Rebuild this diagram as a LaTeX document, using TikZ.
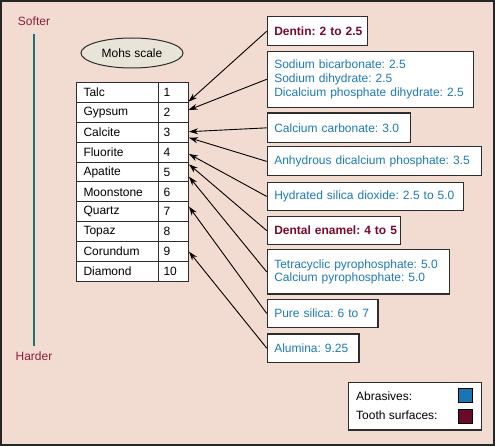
\documentclass[tikz,border=0pt]{standalone}
\usepackage{fontspec}
\setmainfont{Liberation Sans}
\usetikzlibrary{arrows.meta,shapes.geometric}
\definecolor{bg}{RGB}{242,220,210}
\definecolor{abr}{RGB}{30,122,184}
\definecolor{tooth}{RGB}{120,10,42}
\definecolor{softc}{RGB}{140,30,60}
\definecolor{tealc}{RGB}{30,115,110}
\definecolor{edgec}{RGB}{45,45,45}
\definecolor{ellc}{RGB}{232,228,216}
\definecolor{sqblue}{RGB}{26,117,181}
\definecolor{sqred}{RGB}{105,10,42}
\frenchspacing
\begin{document}
\begin{tikzpicture}[x=1pt,y=-1pt,font=\fontsize{12}{14}\selectfont\frenchspacing,
  box/.style={draw=edgec,line width=1.2pt,fill=white,anchor=north west,inner xsep=7pt,inner ysep=0pt,align=left,text=abr},
  toothbox/.style={box,text=tooth,font=\fontsize{12}{14}\selectfont\frenchspacing\bfseries},
  cellname/.style={draw=edgec,line width=1pt,fill=white,anchor=north west,minimum width=82pt,minimum height=19.9pt,text width=68pt,inner xsep=7pt,inner ysep=0pt,align=left},
  cellnum/.style={draw=edgec,line width=1pt,fill=white,anchor=north west,minimum width=30pt,minimum height=19.9pt,text width=20pt,inner xsep=5pt,inner ysep=0pt,align=left},
  arr/.style={line width=0.9pt,-{Stealth[length=9pt,width=6pt]}},
  sq/.style={draw=black,line width=0.8pt,minimum width=14pt,minimum height=14pt,inner sep=0pt,anchor=north west}]
\useasboundingbox (0,0) rectangle (495,446);
\draw[line width=2pt,draw=black!85,fill=bg] (1,1) rectangle (494,445);
% hardness axis
\node[text=softc] (soft) at (34,21.5) {Softer};
\node[text=softc] (hard) at (34,356.5) {Harder};
\draw[tealc,line width=1.5pt] (34,34) -- (34,346);
% ellipse
\node[ellipse,draw=edgec,line width=1pt,fill=ellc,minimum width=102pt,minimum height=30pt,inner sep=0pt] (mohs) at (132,53) {Mohs scale};
% table
\foreach \i/\n/\v in {1/Talc/1,2/Gypsum/2,3/Calcite/3,4/Fluorite/4,5/Apatite/5,6/Moonstone/6,7/Quartz/7,8/Topaz/8,9/Corundum/9,10/Diamond/10}{
  \node[cellname] (m\i) at (76,{82+19.9*(\i-1)}) {\n};
  \node[cellnum] (v\i) at (158,{82+19.9*(\i-1)}) {\v};
}
% arrow tips on table edge
\coordinate (t1) at (188.5,101.7);
\coordinate (t2) at (188.5,110);
\coordinate (t3) at (189,131.7);
\coordinate (t4) at (189,137.7);
\coordinate (t5) at (189,154);
\coordinate (t6) at (189,164.3);
\coordinate (t7) at (189,176.7);
\coordinate (t8) at (189,206.7);
\coordinate (t9) at (189,251.7);
% boxes
\node[toothbox,minimum width=100.5pt,minimum height=28.7pt,text width=86.5pt] (b1) at (266.7,16.3) {\mbox{Dentin: 2 to 2.5}};
\node[box,minimum width=206pt,minimum height=56pt,text width=192pt] (b2) at (266.7,50.7) {Sodium bicarbonate: 2.5\\Sodium dihydrate: 2.5\\Dicalcium phosphate dihydrate: 2.5};
\node[box,minimum width=143.3pt,minimum height=29.5pt,text width=129.3pt] (b3) at (266.7,112.5) {Calcium carbonate: 3.0};
\node[box,minimum width=214pt,minimum height=29pt,text width=200pt] (b4) at (266.7,146.3) {Anhydrous dicalcium phosphate: 3.5};
\node[box,minimum width=196pt,minimum height=28.3pt,text width=182pt] (b5) at (266.7,181.7) {Hydrated silica dioxide: 2.5 to 5.0};
\node[toothbox,minimum width=133.3pt,minimum height=28.6pt,text width=119.3pt] (b6) at (266.7,215.7) {\mbox{Dental enamel: 4 to 5}};
\node[box,minimum width=182.3pt,minimum height=44pt,text width=168.3pt,font=\fontsize{12}{13.2}\selectfont\frenchspacing] (b7) at (266.7,249.3) {Tetracyclic pyrophosphate: 5.0\\Calcium pyrophosphate: 5.0};
\node[box,minimum width=110.6pt,minimum height=27.7pt,text width=96.6pt] (b8) at (266.7,299) {Pure silica: 6 to 7};
\node[box,minimum width=91.6pt,minimum height=28.4pt,text width=77.6pt] (b9) at (266.7,333.3) {Alumina: 9.25};
% arrows
\foreach \k in {1,...,9}{
  \draw[arr] (b\k.west) -- (t\k);
}
% legend
\node[draw=edgec,line width=1.2pt,fill=white,anchor=north west,minimum width=133pt,minimum height=47.6pt,inner sep=0pt] (leg) at (347.7,381.7) {};
\node[anchor=west,inner sep=0pt] (la) at (356,396) {Abrasives:};
\node[anchor=west,inner sep=0pt] (lt) at (356,415.5) {Tooth surfaces:};
\node[sq,fill=sqblue] (sa) at (457.5,388) {};
\node[sq,fill=sqred] (st) at (457.5,409.2) {};
\end{tikzpicture}
\end{document}
